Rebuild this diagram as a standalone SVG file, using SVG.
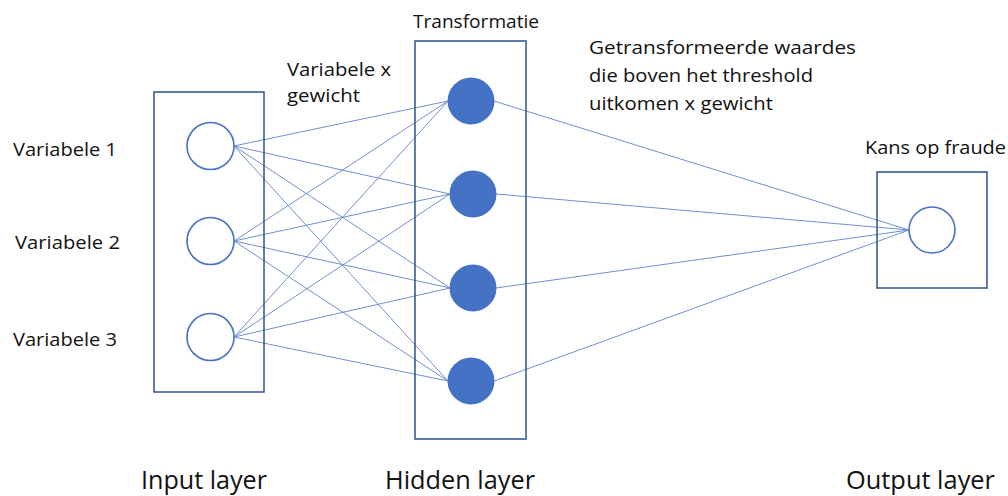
<svg xmlns="http://www.w3.org/2000/svg" width="1008" height="496" viewBox="0 0 1008 496">
  <style>
    .box { fill: none; stroke: #2F528F; stroke-width: 1.5; }
    .in { fill: #FFFFFF; stroke: #4472C4; stroke-width: 1.6; }
    .hid { fill: #4472C4; stroke: none; }
    .link { stroke: #6F8FD0; stroke-width: 1; fill: none; }
    text { font-family: "Open Sans", "Liberation Sans", sans-serif; fill: #111111; }
    .lbl { font-size: 18.5px; }
    .big { font-size: 25px; }
  </style>
  <rect width="1008" height="496" fill="#FFFFFF"/>

  <!-- connectors: input -> hidden, hidden -> output -->
  <g id="connectors">
    <line class="link" x1="234" y1="146" x2="448" y2="101"/>
    <line class="link" x1="234" y1="146" x2="450" y2="194"/>
    <line class="link" x1="234" y1="146" x2="450" y2="288"/>
    <line class="link" x1="234" y1="146" x2="448" y2="381"/>
    <line class="link" x1="234" y1="241" x2="448" y2="101"/>
    <line class="link" x1="234" y1="241" x2="450" y2="194"/>
    <line class="link" x1="234" y1="241" x2="450" y2="288"/>
    <line class="link" x1="234" y1="241" x2="448" y2="381"/>
    <line class="link" x1="234" y1="337" x2="448" y2="101"/>
    <line class="link" x1="234" y1="337" x2="450" y2="194"/>
    <line class="link" x1="234" y1="337" x2="450" y2="288"/>
    <line class="link" x1="234" y1="337" x2="448" y2="381"/>
    <line class="link" x1="494" y1="101" x2="909" y2="230"/>
    <line class="link" x1="496" y1="194" x2="909" y2="230"/>
    <line class="link" x1="496" y1="288" x2="909" y2="230"/>
    <line class="link" x1="494" y1="381" x2="909" y2="230"/>
  </g>

  <!-- input layer -->
  <g id="input-layer">
    <rect class="box" x="154" y="92" width="110" height="300"/>
    <text class="big" x="141" y="489" textLength="126" lengthAdjust="spacingAndGlyphs">Input layer</text>
  </g>
  <g id="input-1">
    <circle class="in" cx="210.5" cy="146" r="23.5"/>
    <text class="lbl" x="13" y="156" textLength="104" lengthAdjust="spacingAndGlyphs">Variabele 1</text>
  </g>
  <g id="input-2">
    <circle class="in" cx="210.5" cy="241" r="23.5"/>
    <text class="lbl" x="15" y="249" textLength="105" lengthAdjust="spacingAndGlyphs">Variabele 2</text>
  </g>
  <g id="input-3">
    <circle class="in" cx="210.5" cy="337" r="23.5"/>
    <text class="lbl" x="13" y="346" textLength="104" lengthAdjust="spacingAndGlyphs">Variabele 3</text>
  </g>

  <!-- weights label -->
  <g id="weights-label">
    <text class="lbl" x="287" y="76" textLength="104" lengthAdjust="spacingAndGlyphs">Variabele x</text>
    <text class="lbl" x="287" y="102" textLength="73" lengthAdjust="spacingAndGlyphs">gewicht</text>
  </g>

  <!-- hidden layer -->
  <g id="hidden-layer">
    <rect class="box" x="415" y="41" width="111" height="398"/>
    <text class="lbl" x="413" y="28" textLength="126" lengthAdjust="spacingAndGlyphs">Transformatie</text>
    <text class="big" x="385" y="489" textLength="150" lengthAdjust="spacingAndGlyphs">Hidden layer</text>
  </g>
  <g id="hidden-1"><circle class="hid" cx="471" cy="101" r="23.5"/></g>
  <g id="hidden-2"><circle class="hid" cx="473" cy="194" r="23.5"/></g>
  <g id="hidden-3"><circle class="hid" cx="473" cy="288" r="23.5"/></g>
  <g id="hidden-4"><circle class="hid" cx="471" cy="381" r="23.5"/></g>

  <!-- transformed values label -->
  <g id="transformed-label">
    <text class="lbl" x="589" y="54" textLength="267" lengthAdjust="spacingAndGlyphs">Getransformeerde waardes</text>
    <text class="lbl" x="589" y="82" textLength="224" lengthAdjust="spacingAndGlyphs">die boven het threshold</text>
    <text class="lbl" x="589" y="110" textLength="184" lengthAdjust="spacingAndGlyphs">uitkomen x gewicht</text>
  </g>

  <!-- output layer -->
  <g id="output-layer">
    <rect class="box" x="877" y="172" width="110" height="116"/>
    <circle class="in" cx="932" cy="230" r="23"/>
    <text class="lbl" x="865" y="154" textLength="141" lengthAdjust="spacingAndGlyphs">Kans op fraude</text>
    <text class="big" x="846" y="489" textLength="149" lengthAdjust="spacingAndGlyphs">Output layer</text>
  </g>
</svg>
